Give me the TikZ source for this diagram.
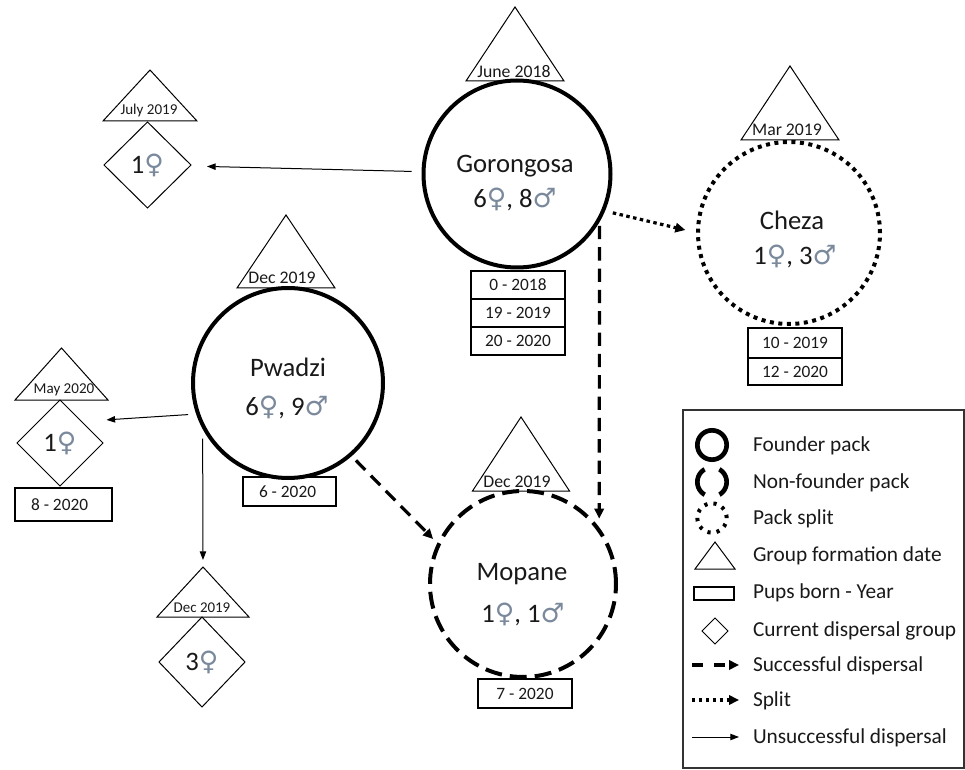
\documentclass[tikz,border=0pt]{standalone}
\usepackage{fontspec}
\setmainfont{Carlito}
\newfontfamily\gendersym[Scale=1.0]{DejaVu Sans}
\usetikzlibrary{shapes.geometric,arrows.meta}
\definecolor{symcol}{RGB}{122,137,155}
\definecolor{inkc}{RGB}{25,25,25}
\newcommand\fe{{\gendersym\color{symcol}\char"2640}}
\newcommand\ma{{\gendersym\color{symcol}\char"2642}}
% name, cx, base y, half width, height, text x, text y, font size, text
\newcommand\formtri[9]{%
  \draw[tri] (#2-#4,#3) -- (#2,#3-#5) -- (#2+#4,#3) -- cycle;
  \coordinate (#1-apex) at (#2,#3-#5);
  \node[trilabel,font=\fontsize{#8}{#8}\selectfont] (#1) at (#6,#7) {#9};
}
\begin{document}
\begin{tikzpicture}[x=0.75pt,y=-0.75pt,
  every node/.style={inner sep=0pt, outer sep=0pt, text=inkc},
  founder/.style={circle, draw, line width=3pt},
  nonfounder/.style={circle, draw, line width=3pt, dash pattern=on 12.75pt off 6pt},
  splitpack/.style={circle, draw, line width=3pt, dash pattern=on 3pt off 3.4pt},
  tri/.style={draw, line width=0.75pt},
  trilabel/.style={anchor=base, inner sep=0pt},
  pupbox/.style={draw, rectangle, line width=0.9pt, minimum width=70.5pt, minimum height=21pt, font=\fontsize{13}{13}\selectfont},
  dgroup/.style={draw, diamond, aspect=1, line width=0.75pt, font=\fontsize{20}{20}\selectfont},
  packname/.style={anchor=base, font=\fontsize{20}{20}\selectfont},
  succ/.style={line width=2.4pt, dash pattern=on 10pt off 6pt, -{Triangle[length=7.5pt,width=7pt]}},
  splitarrow/.style={line width=2.4pt, dash pattern=on 2.6pt off 2.6pt, -{Triangle[length=7.5pt,width=7pt]}},
  unsucc/.style={line width=0.75pt, -{Triangle[length=6.5pt,width=4.8pt]}},
  legtext/.style={anchor=base west, font=\fontsize{16}{16}\selectfont},
  legbox/.style={draw=black!80, line width=1.1pt}
]
\useasboundingbox (0,0) rectangle (965,770);

% ---------- packs ----------
\node[founder, minimum size=140.25pt] (gor) at (517,174) {};
\node[splitpack, minimum size=136.5pt] (cheza) at (789,233) {};
\node[founder, minimum size=142.5pt] (pw) at (288,383) {};
\node[nonfounder, minimum size=139.5pt] (mop) at (523,584) {};

\node[packname] (gorname) at (515,173) {Gorongosa};
\node[packname] (gorcount) at (515,208) {6\fe, 8\ma};
\node[packname] (chezaname) at (792,230) {Cheza};
\node[packname] (chezacount) at (795,265) {1\fe, 3\ma};
\node[packname] (pwname) at (288,377) {Pwadzi};
\node[packname] (pwcount) at (287,415) {6\fe, 9\ma};
\node[packname] (mopname) at (522,580) {Mopane};
\node[packname] (mopcount) at (523,622) {1\fe, 1\ma};

% ---------- formation triangles ----------
\formtri{gortri}{515}{81}{49}{74}{514}{78}{13.3}{June 2018}
\formtri{chezatri}{790}{140}{49}{74}{787}{136}{13.3}{Mar 2019}
\formtri{pwtri}{286}{288}{49}{73}{282}{284}{13.3}{Dec 2019}
\formtri{moptri}{521}{491}{48.5}{74}{517}{487}{13.3}{Dec 2019}
\formtri{julytri}{150}{121}{47}{51}{149}{115}{11.3}{July 2019}
\formtri{maytri}{61.5}{400}{46.5}{52}{64}{393}{11.3}{May 2020}
\formtri{dectri}{203}{617}{46}{50}{202}{612}{11.2}{Dec 2019}

% ---------- pups boxes ----------
\node[pupbox] (gb1) at (518,285) {0 - 2018};
\node[pupbox] (gb2) at (518,313) {19 - 2019};
\node[pupbox] (gb3) at (518,341) {20 - 2020};
\node[pupbox, minimum height=22.5pt] (cb1) at (795,343) {10 - 2019};
\node[pupbox, minimum height=20.25pt] (cb2) at (795,371.5) {12 - 2020};
\node[pupbox, minimum width=69.75pt, minimum height=21.75pt] (pb) at (289.5,491.5) {6 - 2020~~};
\node[pupbox, minimum height=21.75pt] (mb) at (525,693.5) {7 - 2020~};
\node[pupbox, minimum width=72.75pt, minimum height=24.75pt] (maybox) at (63.5,504.5) {8 - 2020~~~};

% ---------- dispersal groups ----------
\node[dgroup, minimum width=65.25pt, minimum height=64.5pt] (july) at (147.5,165) {1\fe};
\node[dgroup, minimum width=64.5pt, minimum height=64.5pt] (may) at (60,443) {1\fe};
\node[dgroup, minimum width=64.5pt, minimum height=67.5pt] (dec3) at (202,662) {3\fe};

% ---------- connectors ----------
\draw[unsucc, shorten <=9pt, shorten >=12.75pt] (gor) -- (july);
\draw[splitarrow, shorten <=7.5pt, shorten >=9.75pt] (gor.-23) -- (cheza.west);
\draw[succ, shorten <=6pt, shorten >=9pt] (gor.-28.7) -- (mop.35.2);
\draw[succ, shorten <=6pt, shorten >=6pt] (pw.-49.3) -- (mop.155.7);
\draw[unsucc, shorten <=7.5pt, shorten >=18.75pt] (pw.199) -- (may.north east);
\draw[unsucc, shorten <=10.5pt, shorten >=5.25pt] (pw.206.5) -- (dectri-apex);

% ---------- legend ----------
\draw[legbox] (683,410) rectangle (964,768);
\node[founder, line width=3.5pt, minimum size=22pt] (lg1) at (712,445) {};
\node[circle, draw, line width=3.5pt, minimum size=22pt, dash pattern=on 23pt off 11.56pt, dash phase=11.5pt] (lg2) at (712,482) {};
\node[circle, draw, line width=3pt, minimum size=22pt, dash pattern=on 2.4pt off 4.5pt] (lg3) at (712,518) {};
\draw[tri] (695,569) -- (715,542) -- (735,569) -- cycle;
\draw[line width=0.9pt] (694,587) rectangle (734,600);
\node[draw, diamond, aspect=1, line width=0.75pt, minimum width=19.5pt, minimum height=19.5pt] (lg6) at (715,631) {};
\coordinate (ls1) at (692,665); \coordinate (le1) at (739,665);
\coordinate (ls2) at (692,700); \coordinate (le2) at (739,700);
\coordinate (ls3) at (692,737); \coordinate (le3) at (739,737);
\draw[succ, dash pattern=on 8.5pt off 8pt] (ls1) -- (le1);
\draw[splitarrow] (ls2) -- (le2);
\draw[unsucc] (ls3) -- (le3);

\node[legtext] (lt1) at (753,451) {Founder pack};
\node[legtext] (lt2) at (753,488) {Non-founder pack};
\node[legtext] (lt3) at (753,524) {Pack split};
\node[legtext] (lt4) at (753,561) {Group formation date};
\node[legtext] (lt5) at (753,598) {Pups born - Year};
\node[legtext] (lt6) at (753,636) {Current dispersal group};
\node[legtext] (lt7) at (753,671) {Successful dispersal};
\node[legtext] (lt8) at (753,706) {Split};
\node[legtext] (lt9) at (753,743) {Unsuccessful dispersal};
\end{tikzpicture}
\end{document}
